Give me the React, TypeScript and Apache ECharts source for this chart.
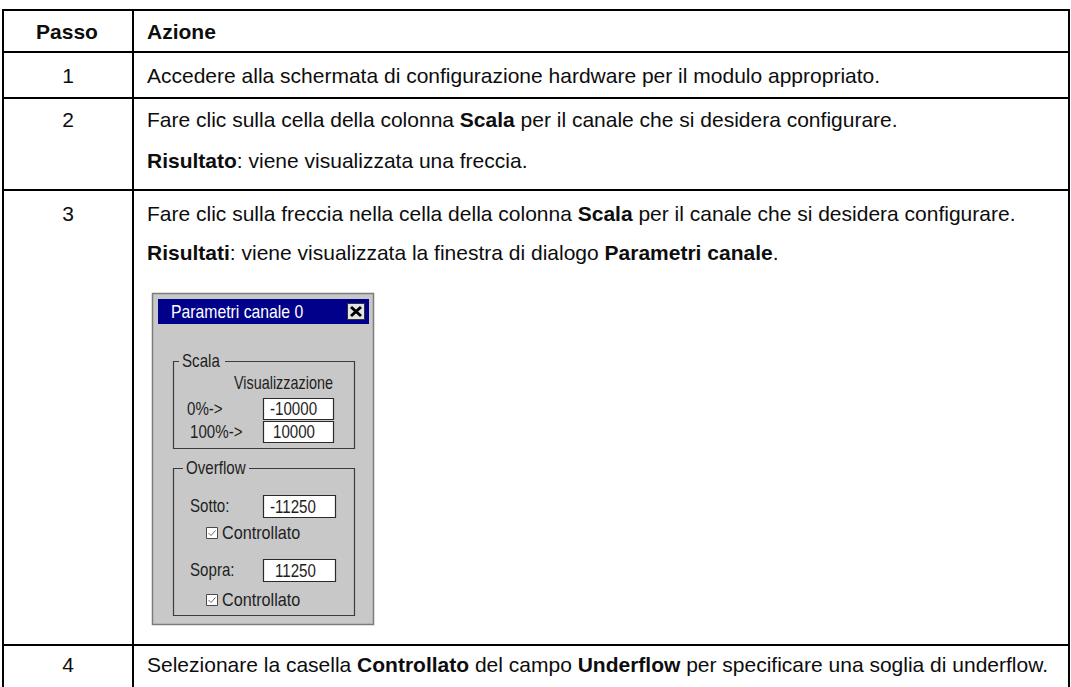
import React, { useEffect, useRef } from 'react';
import * as echarts from 'echarts';

// ---- table content ----
const headerLabels = ['Passo', 'Azione'];
const stepNumbers = ['1', '2', '3', '4'];
const actionLines: string[][] = [
  ['Accedere alla schermata di configurazione hardware per il modulo appropriato.'],
  [
    'Fare clic sulla cella della colonna {b|Scala} per il canale che si desidera configurare.',
    '{b|Risultato}: viene visualizzata una freccia.',
  ],
  [
    'Fare clic sulla freccia nella cella della colonna {b|Scala} per il canale che si desidera configurare.',
    '{b|Risultati}: viene visualizzata la finestra di dialogo {b|Parametri canale}.',
  ],
  ['Selezionare la casella {b|Controllato} del campo {b|Underflow} per specificare una soglia di underflow.'],
];

// ---- dialog content ----
const dialogTitle = 'Parametri canale 0';
const scaleGroupLabel = 'Scala';
const scaleColumnLabel = 'Visualizzazione';
const scaleRowLabels = ['0%->', '100%->'];
const scaleValues = ['-10000', '10000'];
const overflowGroupLabel = 'Overflow';
const overflowRowLabels = ['Sotto:', 'Sopra:'];
const overflowValues = ['-11250', '11250'];
const checkboxLabel = 'Controllato';

export default function App() {
  const ref = useRef<HTMLDivElement>(null);
  useEffect(() => {
    document.body.style.margin = '0';
    const chart = echarts.init(ref.current!, null, { renderer: 'svg' });
    const els: any[] = [];
    const FONT = '"Liberation Sans", Arial, sans-serif';
    const TXT = '#0d0d0d';
    const FS = 21;
    const DFS = 18; // dialog font size
    const DSX = 0.84; // dialog horizontal condensing
    const DTXT = '#1e1e1e';
    const DBG = '#c8c8c8';
    const GB = '#3c3c3c';

    // ---- table grid ----
    const left = 3, mid = 133, right = 1069;
    const rowLines = [10, 52, 98, 190, 645];
    rowLines.forEach((y) =>
      els.push({ type: 'line', shape: { x1: left - 1, y1: y, x2: right + 1, y2: y }, style: { stroke: '#000', lineWidth: 2 } })
    );
    [left, mid, right].forEach((x) =>
      els.push({ type: 'line', shape: { x1: x, y1: rowLines[0] - 1, x2: x, y2: 700 }, style: { stroke: '#000', lineWidth: 2 } })
    );

    const textEl = (x: number, y: number, text: string, opts: any = {}) => ({
      type: 'text',
      x,
      y,
      style: {
        text,
        fill: TXT,
        fontFamily: FONT,
        fontSize: FS,
        fontWeight: 'normal',
        textAlign: 'left',
        textVerticalAlign: 'middle',
        rich: {
          b: { fontFamily: FONT, fontSize: FS, fontWeight: 'bold', fill: TXT },
        },
        ...opts,
      },
    });

    // header
    const headerY = 31;
    els.push(textEl(67, headerY, headerLabels[0], { fontWeight: 'bold', textAlign: 'center' }));
    els.push(textEl(147, headerY, headerLabels[1], { fontWeight: 'bold' }));

    const rowTextY = [[75], [119, 160], [213, 252], [664]];
    stepNumbers.forEach((n, i) => {
      els.push(textEl(68, rowTextY[i][0], n, { textAlign: 'center' }));
      actionLines[i].forEach((line, j) => {
        els.push(textEl(147, rowTextY[i][j], line));
      });
    });

    // ---- dialog ----
    const dText = (x: number, y: number, text: string, opts: any = {}, sx: number = DSX) => ({
      type: 'text',
      x,
      y,
      scaleX: sx,
      style: {
        text,
        fill: DTXT,
        fontFamily: FONT,
        fontSize: DFS,
        textAlign: 'left',
        textVerticalAlign: 'middle',
        ...opts,
      },
    });

    // outer frame
    els.push({ type: 'rect', shape: { x: 152.5, y: 293.5, width: 221, height: 331 }, style: { fill: DBG, stroke: '#7c7c7c', lineWidth: 1.5 } });
    // title bar
    els.push({ type: 'rect', shape: { x: 158, y: 299, width: 211, height: 25 }, style: { fill: '#00008a' } });
    els.push(dText(171, 311.5, dialogTitle, { fill: '#ffffff', fontSize: 19 }, 0.83));
    // close button
    els.push({ type: 'rect', shape: { x: 347.5, y: 303.5, width: 17, height: 16 }, style: { fill: '#e4e4e4', stroke: '#333', lineWidth: 1 } });
    els.push({ type: 'line', shape: { x1: 351, y1: 307, x2: 361, y2: 316 }, style: { stroke: '#000', lineWidth: 3 } });
    els.push({ type: 'line', shape: { x1: 361, y1: 307, x2: 351, y2: 316 }, style: { stroke: '#000', lineWidth: 3 } });

    // group boxes
    const groupBox = (x: number, y: number, w: number, h: number, label: string, lx: number, lw: number) => {
      els.push({ type: 'rect', shape: { x: x + 0.5, y: y + 0.5, width: w, height: h }, style: { fill: 'none', stroke: GB, lineWidth: 1.2 } });
      els.push({ type: 'rect', shape: { x: lx - 3, y: y - 6, width: lw + 6, height: 12 }, style: { fill: DBG } });
      els.push(dText(lx, y, label));
    };
    groupBox(173, 361, 181, 87, scaleGroupLabel, 182, 40);
    groupBox(173, 468, 181, 147, overflowGroupLabel, 186, 60);

    els.push(dText(234, 382, scaleColumnLabel, {}, 0.8));

    const valueBox = (x: number, y: number, w: number, h: number, v: string, tx: number) => {
      els.push({ type: 'rect', shape: { x: x + 0.5, y: y + 0.5, width: w, height: h }, style: { fill: '#ffffff', stroke: '#2a2a2a', lineWidth: 1.2 } });
      els.push(dText(tx, y + h / 2 + 1, v));
    };

    const scaleLabelX = [187, 190];
    const scaleY = [409, 432];
    scaleRowLabels.forEach((lab, i) => {
      els.push(dText(scaleLabelX[i], scaleY[i], lab));
      valueBox(263, scaleY[i] - 11, 70, 21, scaleValues[i], i === 0 ? 270 : 273);
    });

    const ovY = [506, 570];
    const cbY = [533, 600];
    overflowRowLabels.forEach((lab, i) => {
      els.push(dText(190, ovY[i], lab));
      valueBox(263, ovY[i] - 11, 72, 22, overflowValues[i], i === 0 ? 270 : 275);
      // checkbox
      els.push({ type: 'rect', shape: { x: 206.5, y: cbY[i] - 5.5, width: 11, height: 11 }, style: { fill: '#ffffff', stroke: '#4a4a4a', lineWidth: 1 } });
      els.push({ type: 'polyline', shape: { points: [[208.5, cbY[i]], [211, cbY[i] + 2.5], [215.5, cbY[i] - 2.5]] }, style: { stroke: '#6a6a6a', lineWidth: 1, fill: 'none' } });
      els.push(dText(222, cbY[i], checkboxLabel, {}, 0.9));
    });

    chart.setOption({ animation: false, backgroundColor: '#ffffff', graphic: { elements: els } });
    return () => chart.dispose();
  }, []);
  return <div ref={ref} style={{ width: 1071, height: 687 }} />;
}
